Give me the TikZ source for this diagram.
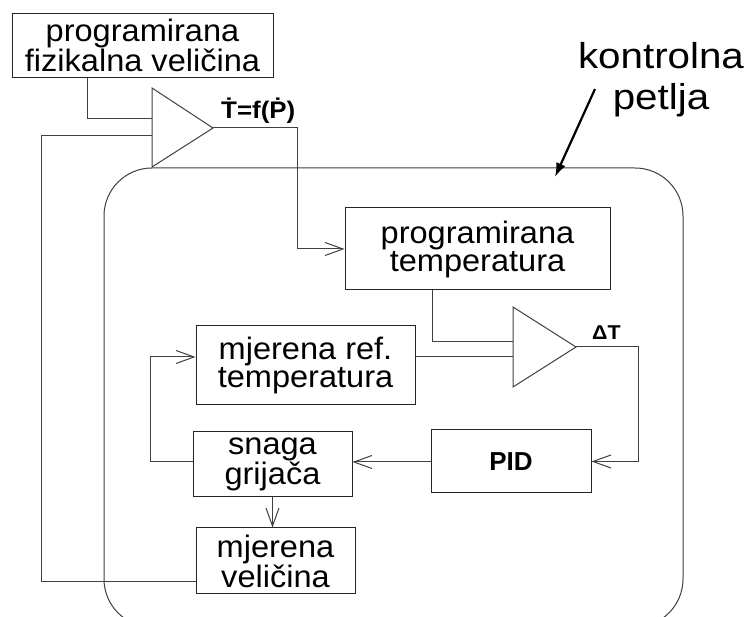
\documentclass[tikz,border=0pt]{standalone}
\usepackage{fontspec}
\setmainfont{Liberation Sans}
\usetikzlibrary{arrows.meta}
\newcommand{\sx}[2][1.05]{\scalebox{#1}[1]{#2}}
\begin{document}
\begin{tikzpicture}[x=1pt,y=-1pt,
  ln/.style={draw=black!75, line width=1pt},
  arr/.style={ln, -{Straight Barb[length=18pt,width=13pt]}},
  box/.style={draw=black!85, line width=1pt, align=center, inner sep=0pt,
    font=\fontsize{31}{28}\selectfont},
  tri/.style={draw=black!75, line width=1pt, line join=miter}]
\useasboundingbox (0,0) rectangle (748,617);
\fill[white] (0,0) rectangle (748,617);

% control loop frame
\begin{scope}
\clip (0,0) rectangle (748,617);
\draw[ln, rounded corners=48pt] (104,168) rectangle (683,627);
\end{scope}

% boxes
\node[box, minimum width=261pt, minimum height=64pt] (pfv) at (142.5,45.5) {\sx{programirana}\\\sx{fizikalna veličina}};
\node[box, minimum width=265pt, minimum height=82pt] (pt) at (477.5,249) {\sx{programirana}\\\sx{temperatura}};
\node[box, minimum width=219pt, minimum height=79pt] (mrt) at (305.5,365.5) {\sx{mjerena ref.}\\\sx{temperatura}};
\node[box, minimum width=159pt, minimum height=65pt] (sg) at (272.5,464.5) {\sx{snaga}\\\sx{grijača}};
\node[box, minimum width=159pt, minimum height=66pt] (mv) at (275.5,561) {\sx{mjerena}\\\sx{veličina}};
\node[box, minimum width=160pt, minimum height=63pt, font=\bfseries\fontsize{26}{26}\selectfont] (pid) at (511,461.5) {PID};

% comparators
\draw[tri] (152,88) -- (213,128) coordinate (t1out) -- (152,167) -- cycle;
\coordinate (t1a) at (152,119);
\coordinate (t1b) at (152,136);
\draw[tri] (513,307) -- (576,347) coordinate (t2out) -- (513,387) -- cycle;
\coordinate (t2a) at (513,342);
\coordinate (t2b) at (513,357);

% labels
\node[font=\bfseries\fontsize{24}{24}\selectfont, anchor=base west, inner sep=0pt] (tfp) at (221,119) {\sx[1.08]{Ṫ=f(Ṗ)}};
\node[font=\bfseries\fontsize{20}{20}\selectfont, anchor=base west, inner sep=0pt] (dt) at (592,340) {\sx[1.07]{ΔT}};
\node[font=\fontsize{36}{41}\selectfont, align=center, anchor=base, inner sep=0pt] (kp) at (661,110) {\sx[1.12]{kontrolna}\\\sx[1.12]{petlja}};

% connectors
\draw[ln] (pfv.south west) ++(76,0) |- (t1a);
\draw[ln] (mv.west |- 0,582) -- (41,582) |- (t1b);
\draw[arr] (t1out) -- (297,128) |- (pt.west);
\draw[ln] (432,0 |- pt.south) |- (t2a);
\draw[ln] (mrt.east |- t2b) -- (t2b);
\draw[arr] (t2out) -- (638,347) |- (pid.east);
\draw[arr] (pid.west |- 0,462) -- (sg.east |- 0,462);
\draw[arr] (sg.west |- 0,462) -- (150,462) |- (mrt.west |- t2b);
\draw[arr] (sg.south) -- (mv.north -| sg.south);

% pointer to the loop
\coordinate (kpa) at (595,89);
\coordinate (kpb) at (555,177);
\draw[black, line width=2.2pt, -{Latex[length=14pt,width=10pt]}] (kpa) -- (kpb);
\end{tikzpicture}
\end{document}
